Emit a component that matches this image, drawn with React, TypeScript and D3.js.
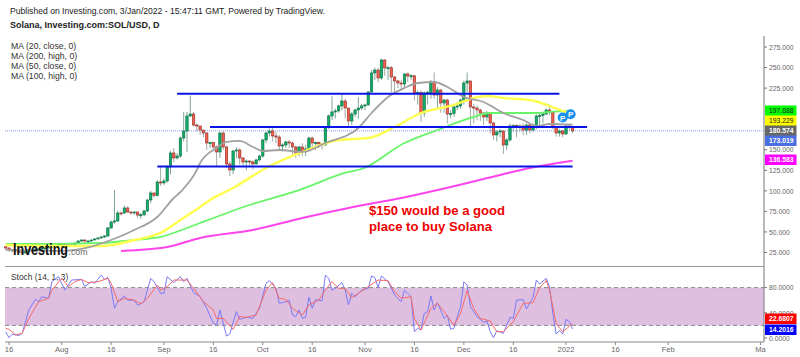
import React from "react";
import * as d3 from "d3";

const closes = [30.5,28.1,28.1,26.9,25.6,24.4,26.9,28.1,28.1,29.3,29.3,30.5,30.5,31.7,32.9,34.2,35.4,35.4,34.2,34.2,34.2,36.6,39,40.2,39,39,40.2,41.5,42.7,43.9,45.1,54.8,62.1,63.4,73.1,73,79.2,74.3,73.7,74.3,70.6,70.9,75.5,88.9,97.4,94.3,110.8,109.6,112,129,146.1,140,142.4,164.3,172.8,191.1,193.5,180.1,178.9,174,170.4,158.2,158.6,153.4,147.3,170.4,153.4,132.7,125.4,148.5,149.7,140,135.1,136.3,135.1,132.7,137.6,142.4,161.9,170.4,172.8,166.8,165.5,154.6,155.8,159.5,158.2,153.4,146.1,153.4,148.5,150.9,164.3,158.2,158.6,157,155.8,177.7,191.1,196,197.2,203.3,209.3,200.8,185,193.5,198.4,200.8,203.3,204.5,220.3,243.4,247,237.3,259.2,249.5,249.8,238.5,233.7,231.2,230,242.2,239.7,240,219.1,219.5,194.7,219.1,219.5,232.4,216.6,222.7,206.9,210.5,193.5,193.9,202,203.3,210.5,231.2,233.7,202,200.8,198.4,194.7,189.9,194.7,182.6,168,171.6,172.8,155.8,161.9,178.9,179.3,177.7,178.9,174,180.1,174,178.9,191.1,191.5,193.5,198.4,196,177.7,170.4,172.8,169.2,178.9,178.3,173];
const highs = [32,31,29,28,27,27,28,29,29,30,30,31,31,33,34,35,37,37,36,36,35,37,40,41,41,40,41,42,44,45,46,56,64,101,76,75,82,81,75,75,73,73,77,90,100,98,113,129,115,131,149,152,146,166,196,196,216,196,182,176,172,171,160,160,155,172,172,155,136,150,153,152,141,138,137,137,139,144,163,172,176,177,172,168,158,161,162,160,155,155,158,156,166,166,160,160,158,179,193,215,200,205,219,212,190,196,200,214,206,206,221,247,250,250,261,260,252,252,240,235,235,243,244,242,241,222,222,221,222,235,244,226,224,212,212,198,204,208,212,234,244,234,206,204,200,196,197,196,184,174,175,174,164,182,181,181,181,182,182,181,182,193,196,196,200,205,197,178,175,174,180,181,179];
const lows = [28,26,26,25,24,23,24,26,27,28,28,29,29,30,31,33,34,33,32,33,33,34,37,38,37,37,38,40,41,42,43,44,54,60,62,70,72,73,71,71,67,66,69,74,85,92,93,106,107,110,120,135,138,140,160,147,190,178,172,168,165,150,152,148,130,140,150,128,118,120,140,132,130,125,130,126,132,136,140,158,166,160,158,150,148,152,152,142,140,142,142,142,148,152,150,152,150,155,175,186,188,195,198,188,178,180,190,188,198,198,204,220,235,232,235,240,235,220,218,225,222,226,232,235,210,205,184,190,205,212,212,200,195,195,182,188,190,198,200,205,220,178,182,186,185,180,185,170,162,160,165,145,150,160,172,165,172,168,168,170,172,175,178,182,192,192,175,166,166,165,168,174,170];

const ma20Days = [0,17,23,32,39,46,51,53,58,59,64,67,71,75,78,83,90,97,107,111,116,121,125,130,134,139,145,151,157,161,165,172];
const ma20 = [28.1,27,29.3,40.2,52.4,68.2,91.3,98.6,125.4,134,152.2,159.5,160.7,153.4,148.5,149.7,147.3,158.2,176.5,194.7,214.2,225.2,231.2,232.4,226.4,214.2,208.1,194.7,186.2,178.9,181.3,180.6];
const ma50Days = [0,13,29,39,47,53,59,62,69,79,90,101,110,118,126,136,142,146,151,159,169,172];
const ma50 = [34.2,32.9,32.9,40.2,48.8,64.6,80.4,88.9,103.5,127.8,147.3,161.9,164.3,177.7,194.7,204.5,213,215.4,213,210.5,197.2,193.2];
const ma100Days = [0,13,29,39,47,55,59,74,89,104,108,121,131,141,147,161,165,172];
const ma100 = [35.4,35.4,36.6,40.2,43.9,54.8,60.9,82.8,101,123,126.6,158.2,174,188.7,194.7,194.7,196,197.7];
const ma200Days = [35,49,59,75,90,104,120,135,150,159,172];
const ma200 = [26.9,31.7,42.7,52.4,67,79.2,91.3,104.7,119.3,127.8,136.6];

const kDays = [0,1,2,4,5,7,9,10,11,13,14,16,18,20,23,24,26,27,29,30,31,32,33,34,36,37,39,40,42,44,45,47,48,49,51,53,54,55,57,59,61,63,64,65,67,68,70,71,73,75,77,79,80,82,83,85,86,87,88,89,90,91,92,93,94,96,97,98,99,100,102,103,104,105,106,108,110,111,112,113,114,116,118,120,121,123,124,125,126,127,128,129,130,131,133,134,135,136,137,138,139,140,141,143,145,146,147,148,149,151,153,154,155,157,158,160,161,162,164,165,166,167,168,169,170,171,172];
const kVals = [10,0.5,6,4,7.4,44.4,61.4,57.7,65.6,63,89.4,97.3,76,92,93,81.5,89.4,86.8,100,93,96,78.8,47,57.7,66.7,60,60,52,57.7,94.7,89.4,71,71,97.3,87.8,97.3,89.4,94.7,72,65.6,47,23.3,20.6,44.4,3,6.4,41.8,29.6,32.8,31.2,47,86.8,91,78.8,55,57.7,60,36.5,33.9,44.4,31.2,32.8,64.6,47,61,59,100,94.7,76,78.8,87.8,76,52.4,71,65.6,76,78.8,98.4,96,80.4,98.4,89.4,68.3,57.7,76,65.6,10,15.3,12.7,39,41.8,66.7,44.4,56,31.2,36.5,13.8,15.3,33.9,49.7,89.4,84,49.7,33.9,24.9,27,10,0.5,11.6,7.4,32.8,31.2,60,61,46,64.6,92,85.7,94.7,81.5,39,6.4,11.6,6.4,29.6,26,14.2];
const dDays = [0,1,3,5,7,10,13,14,17,19,21,23,25,28,31,32,34,36,39,41,43,46,47,49,51,55,57,60,63,64,66,69,71,73,76,79,81,83,85,87,90,92,95,97,99,101,103,105,107,110,113,116,118,120,123,124,126,129,131,133,136,138,140,142,144,147,149,151,154,157,160,162,164,165,167,169,172];
const dVals = [15.3,14,4.8,7.4,31,57.7,63,76,94.7,81.5,89.4,93,87.8,89.4,94.7,86.8,57.7,63,60,54,63,84,76,81.5,92,92,78.8,57.7,44.4,31.2,31.2,13.8,33.9,32.8,36.5,76,88,63,61.4,47,36.5,52.4,60.3,76,89.4,78.8,78.8,64,71,81.5,92,91,73.5,63,65.6,31,12.7,47,55,41.8,20.6,39,75,47,31,27,10,10,26,55,56,80,91,76,23,10,22.7];

const priceTicks = [275,250,225,150,125,100,75,50,25];
const stochTicks = [80,40,0];
const stochBand = [80,20];
const resistance = [218,177.7,129.5];
const lineSpans = [[52,168],[62,176.4],[46,172]];
const xTicks: [string,string][] = [["2021-07-16","16"],["2021-08-01","Aug"],["2021-08-16","16"],["2021-09-01","Sep"],["2021-09-16","16"],["2021-10-01","Oct"],["2021-10-16","16"],["2021-11-01","Nov"],["2021-11-16","16"],["2021-12-01","Dec"],["2021-12-16","16"],["2022-01-01","2022"],["2022-01-16","16"],["2022-02-01","Feb"],["2022-03-01","Ma"]];
const maLegend = ["MA (20, close, 0)","MA (200, high, 0)","MA (50, close, 0)","MA (100, high, 0)"];
const priceBadges: [string,string,string,number][] = [["197.688","#00ff00","#222",111],["193.229","#ffff00","#222",121],["180.574","#666666","#fff",131],["173.019","#4a6fe0","#fff",141],["136.583","#ff00ff","#fff",160]];
const stochBadges: [string,string,string,number][] = [["22.6807","#ff0000","#fff",319],["14.2016","#0000ff","#fff",330]];
const pinDays = [169,171.4];
const pinPrices = [189.2,193.2];

const FONT = "'Liberation Sans', Arial, sans-serif";
const day0 = Date.UTC(2021,6,15);
const MS = 86400000;
const xTime = d3.scaleUtc().domain([new Date(day0), new Date(day0+172*MS)]).range([5.7,572.6]);
const xDay = (i:number)=>xTime(new Date(day0+i*MS));
const y = d3.scaleLinear().domain([25,275]).range([252.5,47]);
const yS = d3.scaleLinear().domain([0,80]).range([338,287.6]);

function path(days:number[],vals:number[],ys:(v:number)=>number){
  const pts = days.map((d,i)=>[d,vals[i]] as [number,number]);
  return d3.line<[number,number]>().x(p=>xDay(p[0])).y(p=>ys(p[1]))(pts) || "";
}
function smooth(days:number[],vals:number[]){
  const pts = days.map((d,i)=>[d,vals[i]] as [number,number]);
  return d3.line<[number,number]>().x(p=>xDay(p[0])).y(p=>y(p[1])).curve(d3.curveMonotoneX)(pts) || "";
}

export default function App(){
  const L=5,R=764;
  return (
    <svg width={800} height={357} style={{position:"absolute",left:0,top:0,display:"block",background:"#fff"}} fontFamily={FONT}>
      <text x={10} y={14} fontSize={8.6} fill="#222">Published on Investing.com, 3/Jan/2022 - 15:47:11 GMT, Powered by TradingView.</text>
      <text x={10} y={28} fontSize={9} fontWeight="bold" fill="#222">Solana, Investing.com:SOL/USD, D</text>
      {maLegend.map((t,i)=><text key={t} x={11} y={48.5+i*10.3} fontSize={8.7} fill="#333">{t}</text>)}

      <line x1={L} x2={R} y1={y(closes[172])} y2={y(closes[172])} stroke="#7d98ee" strokeWidth={1} strokeDasharray="1 1"/>

      {closes.map((c,i)=>{
        const o = i?closes[i-1]:c+1.5;
        const up = c>=o;
        const X = xDay(i);
        const top = y(Math.max(o,c)), bot = y(Math.min(o,c));
        return <g key={i}>
          <line x1={X} x2={X} y1={y(Math.max(highs[i],o,c))} y2={y(Math.min(lows[i],o,c))} stroke={up?"#7fa594":"#a0aaa4"} strokeWidth={1}/>
          <rect x={X-1.2} y={top} width={2.4} height={Math.max(bot-top,1)} fill={up?"#0fae68":"#f4604e"} stroke={up?"#0a6b42":"#8f2a22"} strokeWidth={0.6}/>
        </g>;
      })}

      <path d={smooth(ma200Days,ma200)} fill="none" stroke="#ff44ee" strokeWidth={2}/>
      <path d={smooth(ma100Days,ma100)} fill="none" stroke="#66f566" strokeWidth={1.8}/>
      <path d={smooth(ma50Days,ma50)} fill="none" stroke="#ffff50" strokeWidth={2.4}/>
      <path d={smooth(ma20Days,ma20)} fill="none" stroke="#a3a0a0" strokeWidth={1.8}/>

      {resistance.map((v,i)=><line key={v} x1={xDay(lineSpans[i][0])} x2={xDay(lineSpans[i][1])} y1={y(v)} y2={y(v)} stroke="#0a14e8" strokeWidth={2}/>)}

      {pinDays.map((d,i)=><g key={d}>
        <circle cx={xDay(d)} cy={y(pinPrices[i])} r={5} fill="#1a90f0"/>
        <text x={xDay(d)} y={y(pinPrices[i])+3} textAnchor="middle" fontSize={8} fontWeight="bold" fill="#fff">P</text>
      </g>)}

      <text x={369} y={215} fontSize={13.1} fontWeight="bold" fill="#f00000">$150 would be a good</text>
      <text x={369} y={231} fontSize={13.1} fontWeight="bold" fill="#f00000">place to buy Solana</text>

      <text x={13} y={255} fontSize={16} fontWeight="bold" fill="#111" textLength={55} lengthAdjust="spacingAndGlyphs">Investing</text>
      <text x={68.5} y={255} fontSize={8.8} fill="#666">.com</text>

      <line x1={L} x2={R} y1={266.5} y2={266.5} stroke="#999"/>
      <rect x={L} y={yS(stochBand[0])} width={R-L} height={yS(stochBand[1])-yS(stochBand[0])} fill="#dfbfdf"/>
      {stochBand.map(v=><line key={v} x1={L} x2={R} y1={yS(v)} y2={yS(v)} stroke="#8a8a8a" strokeDasharray="4 3"/>)}
      <text x={11} y={280} fontSize={8.4} fill="#333">Stoch (14, 1, 3)</text>
      <path d={path(kDays,kVals,yS)} fill="none" stroke="#7a7af6" strokeWidth={1}/>
      <path d={path(dDays,dVals,yS)} fill="none" stroke="#f46a6a" strokeWidth={1}/>

      <line x1={L} x2={R} y1={342} y2={342} stroke="#888"/>
      <line x1={R} x2={R} y1={36} y2={342} stroke="#777"/>
      {priceTicks.map(v=><g key={v}>
        <line x1={R} x2={R+3} y1={y(v)} y2={y(v)} stroke="#777"/>
        <text x={769} y={y(v)+2.7} fontSize={6.8} fill="#666" letterSpacing={0}>{d3.format(".3f")(v)}</text>
      </g>)}
      {stochTicks.map(v=><g key={v}>
        <line x1={R} x2={R+3} y1={yS(v)} y2={yS(v)} stroke="#777"/>
        <text x={769} y={yS(v)+2.7} fontSize={6.8} fill="#666">{d3.format(".4f")(v)}</text>
      </g>)}
      {[...priceBadges,...stochBadges].map(([t,bg,fg,py])=><g key={t}>
        <rect x={765} y={py-5.5} width={31.5} height={10.5} fill={bg}/>
        <text x={769} y={py+2.3} fontSize={6.8} fontWeight={fg==="#fff"?"bold":"normal"} fill={fg}>{t}</text>
      </g>)}
      {xTicks.map(([d,t])=>{
        const X = xTime(new Date(d+"T00:00:00Z"));
        return <g key={d}>
          <line x1={X} x2={X} y1={342} y2={345} stroke="#888"/>
          <text x={X} y={351.5} textAnchor="middle" fontSize={7.6} fill="#666">{t}</text>
        </g>;
      })}
    </svg>
  );
}
